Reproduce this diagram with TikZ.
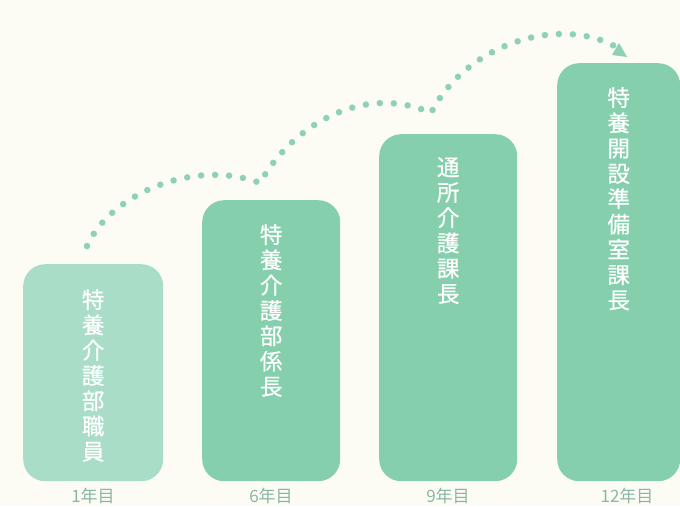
\documentclass[tikz,border=0pt]{standalone}
\usepackage{fontspec}
\newfontfamily\jpfont[FakeBold=0.6]{Noto Sans CJK JP}
\newfontfamily\jplight{Noto Sans CJK JP}
\usetikzlibrary{arrows.meta}

\definecolor{paper}{HTML}{FCFCF5}
\definecolor{mintpale}{HTML}{A9DDC8}
\definecolor{mint}{HTML}{86CFAD}
\definecolor{trailgreen}{HTML}{8ED1B4}
\definecolor{yeargrey}{HTML}{8AB7A4}

\tikzset{
  bar/.style={rectangle, fill=mint, draw=none, rounded corners=22pt,
    inner sep=0pt, anchor=north west},
  role/.style={anchor=north, inner sep=0pt, align=center, text=white,
    font=\jpfont\fontsize{22.5pt}{25.3pt}\selectfont},
  year/.style={inner sep=0pt, text=yeargrey,
    font=\jplight\fontsize{17pt}{17pt}\selectfont},
  trail/.style={draw=trailgreen, line width=6.5pt, line cap=round,
    dash pattern=on 0pt off 14pt},
}

\begin{document}
\begin{tikzpicture}[x=1pt, y=-1pt]
  % Paper, fixes the frame to the page size.
  \fill[paper] (0,0) rectangle (680,506);
  \useasboundingbox (0,0) rectangle (680,506);

  % The four steps, each one taller than the last.
  \node[bar, fill=mintpale, minimum width=140pt, minimum height=217pt] (box1) at (23,264) {};
  \node[bar, minimum width=138pt, minimum height=281pt] (box2) at (202,200) {};
  \node[bar, minimum width=138pt, minimum height=347pt] (box3) at (379,134) {};
  \node[bar, minimum width=123pt, minimum height=418pt] (box4) at (557,63) {};

  % Job titles, set one character per line.
  \node[role] (role1) at ([yshift=-25pt]box1.north) {特\\養\\介\\護\\部\\職\\員};
  \node[role] (role2) at ([yshift=-24pt]box2.north) {特\\養\\介\\護\\部\\係\\長};
  \node[role] (role3) at ([yshift=-23pt]box3.north) {通\\所\\介\\護\\課\\長};
  \node[role] (role4) at ([yshift=-24pt]box4.north) {特\\養\\開\\設\\準\\備\\室\\課\\長};

  % Years under the steps.
  \node[year] (year1) at (93,496) {1年目};
  \node[year] (year2) at (271,496) {6年目};
  \node[year] (year3) at (448,496) {9年目};
  \node[year] (year4) at (627,496) {12年目};

  % Dotted career path hopping over the steps.
  \coordinate (start) at (87,246);
  \coordinate (dip1) at (260,183);
  \coordinate (dip2) at (431,113);
  \coordinate (tip) at (627,57);
  \draw[trail] (start) .. controls (110,194) and (195,158) .. (dip1)
    .. controls (290,128) and (362,82) .. (dip2)
    .. controls (466,44) and (560,14) .. ([shift={(-9,-9)}]tip);
  \fill[trailgreen] (tip) -- ++(-15,-2) -- ++(7,-12) -- cycle;
\end{tikzpicture}
\end{document}
